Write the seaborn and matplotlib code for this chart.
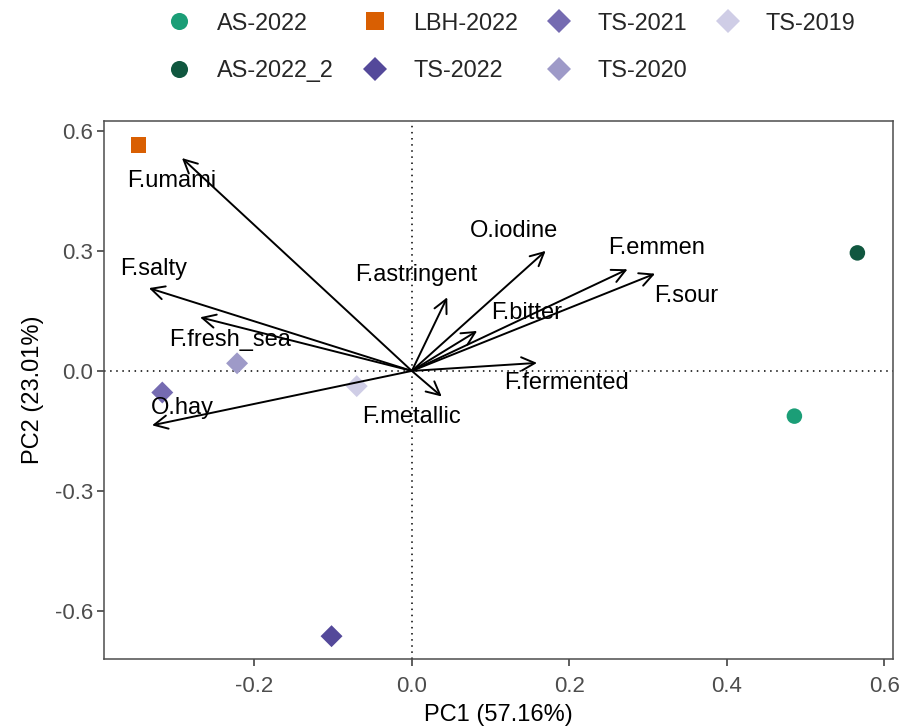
import pandas as pd
import matplotlib
matplotlib.use("Agg")
import matplotlib.pyplot as plt
import seaborn as sns

# ----------------------------
# Data: PCA scores and loadings
# ----------------------------
groups = ["AS-2022", "AS-2022_2", "LBH-2022", "TS-2022", "TS-2021", "TS-2020", "TS-2019"]
pc1 = [0.486, 0.566, -0.347, -0.102, -0.317, -0.222, -0.070]
pc2 = [-0.113, 0.295, 0.565, -0.663, -0.054, 0.019, -0.038]

variables = ["F.umami", "F.salty", "F.fresh_sea", "O.hay", "F.metallic", "F.astringent",
             "O.iodine", "F.bitter", "F.emmen", "F.sour", "F.fermented"]
load_pc1 = [-0.292, -0.334, -0.269, -0.330, 0.038, 0.045, 0.170, 0.083, 0.274, 0.309, 0.159]
load_pc2 = [0.532, 0.207, 0.134, -0.136, -0.064, 0.184, 0.300, 0.100, 0.254, 0.243, 0.020]
# repelled label positions (data units)
label_pc1 = [-0.305, -0.328, -0.231, -0.291, 0.0, 0.006, 0.130, 0.146, 0.311, 0.348, 0.196]
label_pc2 = [0.475, 0.255, 0.078, -0.093, -0.115, 0.240, 0.350, 0.145, 0.308, 0.188, -0.030]

colors = ["#1b9e77", "#10573f", "#d95f02", "#54499a", "#756bb1", "#9e9ac8", "#cfcde6"]
shapes = ["o", "o", "s", "D", "D", "D", "D"]

scores = pd.DataFrame({"PC1": pc1, "PC2": pc2, "group": groups})
loadings = pd.DataFrame({"var": variables, "x": load_pc1, "y": load_pc2,
                         "lx": label_pc1, "ly": label_pc2})

# ----------------------------
# Style
# ----------------------------
sns.set_theme(style="white")
plt.rcParams["font.family"] = ["Liberation Sans", "DejaVu Sans"]

fig = plt.figure(figsize=(9, 7.28), dpi=100)
ax = fig.add_axes([0.1156, 0.0948, 0.8764, 0.7392])

ax.axhline(0, color="black", linestyle=(0, (1, 3)), linewidth=1.1, zorder=1)
ax.axvline(0, color="black", linestyle=(0, (1, 3)), linewidth=1.1, zorder=1)

sns.scatterplot(data=scores, x="PC1", y="PC2", hue="group", style="group",
                hue_order=groups, style_order=groups,
                palette=dict(zip(groups, colors)), markers=dict(zip(groups, shapes)),
                s=125, linewidth=0, ax=ax, zorder=3)

for _, r in loadings.iterrows():
    ax.annotate("", xy=(r["x"], r["y"]), xytext=(0, 0),
                arrowprops=dict(arrowstyle="->,head_length=0.8,head_width=0.4",
                                color="black", lw=1.4, shrinkA=0, shrinkB=0),
                zorder=4)
    ax.text(r["lx"], r["ly"], r["var"], ha="center", va="center",
            fontsize=17, color="black", zorder=5)

ax.set_xlim(-0.391, 0.611)
ax.set_ylim(-0.72, 0.625)
ax.set_xticks([-0.2, 0.0, 0.2, 0.4, 0.6])
ax.set_yticks([-0.6, -0.3, 0.0, 0.3, 0.6])
ax.set_xticklabels(["-0.2", "0.0", "0.2", "0.4", "0.6"])
ax.set_yticklabels(["-0.6", "-0.3", "0.0", "0.3", "0.6"])
ax.tick_params(axis="both", direction="out", length=5, width=1.1, color="#333333",
               labelsize=16, labelcolor="#4d4d4d", bottom=True, left=True, pad=3)
ax.tick_params(axis="x", pad=7)
for sp in ax.spines.values():
    sp.set_color("#4d4d4d")
    sp.set_linewidth(1.1)

ax.set_xlabel("PC1 (57.16%)", fontsize=17, color="black", labelpad=5)
ax.set_ylabel("PC2 (23.01%)", fontsize=17, color="black", labelpad=8)

sns.move_legend(ax, "upper center", bbox_to_anchor=(0.562, 1.013),
                bbox_transform=fig.transFigure, ncol=4, frameon=False, title=None,
                fontsize=16.8, handletextpad=0.63, columnspacing=0.76,
                labelspacing=1.05, markerscale=1.1)

fig.savefig("out.png", dpi=100)
